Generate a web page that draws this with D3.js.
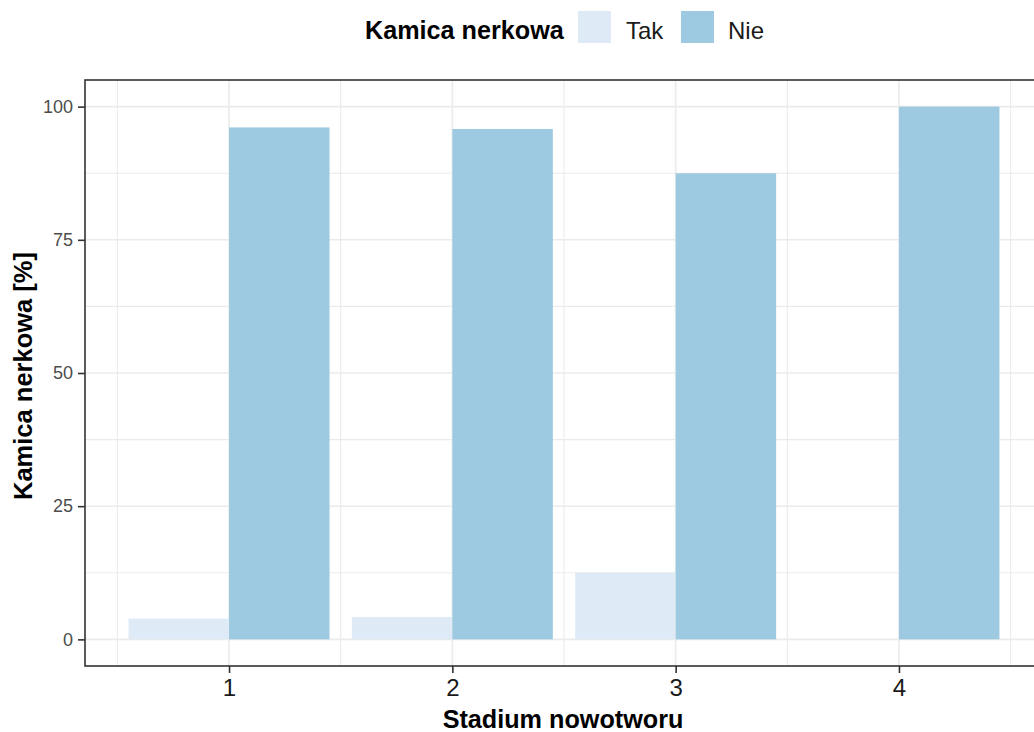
<!DOCTYPE html>
<html>
<head>
<meta charset="utf-8">
<script src="https://cdn.jsdelivr.net/npm/d3@7"></script>
<style>
  html, body { margin: 0; padding: 0; background: #fff; }
  svg { display: block; font-family: "Liberation Sans", Arial, sans-serif; }
</style>
</head>
<body>
<svg id="chart" width="1034" height="732"></svg>
<script>
// ---- data ----
const categories = [1, 2, 3, 4];
const seriesNames = ["Tak", "Nie"];
const takValues = [3.9, 4.2, 12.5, 0];
const nieValues = [96.1, 95.8, 87.5, 100];
const yTicks = [0, 25, 50, 75, 100];
const yMinor = [12.5, 37.5, 62.5, 87.5];
const xMinor = [0.5, 1.5, 2.5, 3.5, 4.5];
const colors = { Tak: "#DEEBF7", Nie: "#9ECAE1" };

const legendTitle = "Kamica nerkowa";
const xTitle = "Stadium nowotworu";
const yTitle = "Kamica nerkowa [%]";

// ---- layout ----
const svg = d3.select("#chart");
const panel = { left: 85, top: 80, right: 1043, bottom: 666 };
const barW = 0.45;

const x = d3.scaleLinear().domain([0.355, 4.645]).range([panel.left, panel.right]);
const y = d3.scaleLinear().domain([-5, 105]).range([panel.bottom, panel.top]);

const g = svg.append("g");

// grid
g.selectAll(".ymin").data(yMinor).enter().append("line")
  .attr("x1", panel.left).attr("x2", panel.right)
  .attr("y1", d => y(d)).attr("y2", d => y(d))
  .attr("stroke", "#EBEBEB").attr("stroke-width", 1.1);
g.selectAll(".xmin").data(xMinor).enter().append("line")
  .attr("y1", panel.top).attr("y2", panel.bottom)
  .attr("x1", d => x(d)).attr("x2", d => x(d))
  .attr("stroke", "#EBEBEB").attr("stroke-width", 1.1);
g.selectAll(".ymaj").data(yTicks).enter().append("line")
  .attr("x1", panel.left).attr("x2", panel.right)
  .attr("y1", d => y(d)).attr("y2", d => y(d))
  .attr("stroke", "#EBEBEB").attr("stroke-width", 1.6);
g.selectAll(".xmaj").data(categories).enter().append("line")
  .attr("y1", panel.top).attr("y2", panel.bottom)
  .attr("x1", d => x(d)).attr("x2", d => x(d))
  .attr("stroke", "#EBEBEB").attr("stroke-width", 1.6);

// bars
const rows = categories.map((c, i) => ({ c, Tak: takValues[i], Nie: nieValues[i] }));
seriesNames.forEach((s, si) => {
  g.selectAll(".bar-" + s).data(rows).enter().append("rect")
    .attr("x", d => x(d.c - barW + si * barW))
    .attr("width", d => x(d.c + barW) - x(d.c))
    .attr("y", d => y(Math.max(d[s], 0)))
    .attr("height", d => Math.abs(y(0) - y(d[s])))
    .attr("fill", colors[s]);
});

// panel border
g.append("rect")
  .attr("x", panel.left).attr("y", panel.top)
  .attr("width", panel.right - panel.left).attr("height", panel.bottom - panel.top)
  .attr("fill", "none").attr("stroke", "#333333").attr("stroke-width", 1.6);

// y axis
const yAxis = d3.axisLeft(y).tickValues(yTicks).tickSize(7).tickPadding(5).tickFormat(d3.format("d"));
const ya = svg.append("g").attr("transform", `translate(${panel.left},0)`).call(yAxis);
ya.select(".domain").remove();
ya.selectAll(".tick line").attr("stroke", "#333333").attr("stroke-width", 1.6);
ya.selectAll(".tick text").attr("fill", "#4D4D4D").style("font-size", "18px")
  .style("font-family", "'Liberation Sans', Arial, sans-serif");

// x axis
const xAxis = d3.axisBottom(x).tickValues(categories).tickSize(7).tickPadding(6).tickFormat(d3.format("d"));
const xa = svg.append("g").attr("transform", `translate(0,${panel.bottom})`).call(xAxis);
xa.select(".domain").remove();
xa.selectAll(".tick line").attr("stroke", "#333333").attr("stroke-width", 1.6);
xa.selectAll(".tick text").attr("fill", "#1A1A1A").style("font-size", "24px")
  .style("font-family", "'Liberation Sans', Arial, sans-serif");

// axis titles
svg.append("text").attr("x", 563).attr("y", 728)
  .attr("text-anchor", "middle").attr("font-weight", "bold").attr("font-size", 25.2)
  .attr("fill", "#000").text(xTitle);
svg.append("text").attr("transform", `translate(32,${(panel.top + panel.bottom) / 2 + 3}) rotate(-90)`)
  .attr("text-anchor", "middle").attr("font-weight", "bold").attr("font-size", 25.5)
  .attr("fill", "#000").text(yTitle);

// legend
const leg = svg.append("g");
leg.append("text").attr("x", 365).attr("y", 39).attr("font-weight", "bold").attr("font-size", 25.2)
  .attr("fill", "#000").text(legendTitle);
const legendKeys = [{ name: "Tak", kx: 578, tx: 626 }, { name: "Nie", kx: 681, tx: 728 }];
legendKeys.forEach(k => {
  leg.append("rect").attr("x", k.kx).attr("y", 11).attr("width", 33).attr("height", 32)
    .attr("fill", colors[k.name]);
  leg.append("text").attr("x", k.tx).attr("y", 39).attr("font-size", 24)
    .attr("fill", "#1A1A1A").text(k.name);
});
</script>
</body>
</html>
